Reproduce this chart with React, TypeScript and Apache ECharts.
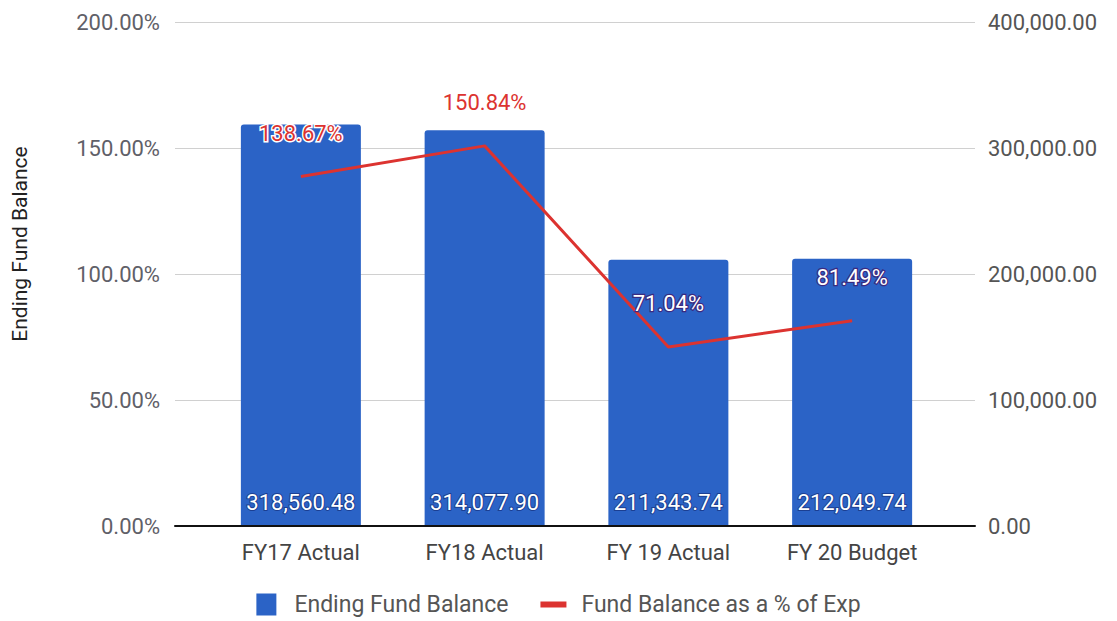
import React, { useEffect, useRef } from "react";
import * as echarts from "echarts";

const categories = ["FY17 Actual", "FY18 Actual", "FY 19 Actual", "FY 20 Budget"];
const fundBalance = [318560.48, 314077.9, 211343.74, 212049.74];
const pctOfExp = [138.67, 150.84, 71.04, 81.49];
const leftTicks = [0, 50, 100, 150, 200];
const rightTicks = [0, 100000, 200000, 300000, 400000];

const BAR = "#2b63c6";
const LINE = "#dc3330";
const FONT = "Roboto";

export default function App() {
  const ref = useRef<HTMLDivElement>(null);
  useEffect(() => {
    if (!ref.current) return;
    const chart = echarts.init(ref.current, undefined, { renderer: "svg" });
    const fmtMoney = (v: number) =>
      v.toLocaleString("en-US", { minimumFractionDigits: 2, maximumFractionDigits: 2 });
    const top = 22;
    const bottom = 95;
    chart.setOption({
      animation: false,
      textStyle: { fontFamily: FONT },
      grid: [
        { left: 209, right: 173, top, bottom },
        { left: 175, right: 142, top, bottom },
      ],
      legend: {
        bottom: 0,
        left: "center",
        itemWidth: 26,
        itemHeight: 22,
        itemGap: 32,
        textStyle: { fontSize: 23, color: "#555", fontFamily: FONT, padding: [0, 0, 0, 10] },
        data: [
          { name: "Ending Fund Balance", icon: "path://M0,0H20V22H0Z" },
          { name: "Fund Balance as a % of Exp", icon: "path://M0,0H26V6H0Z" },
        ],
      },
      graphic: [
        {
          type: "text",
          x: 20,
          y: 244,
          rotation: Math.PI / 2,
          style: {
            text: "Ending Fund Balance",
            font: `21px ${FONT}`,
            fill: "#222",
            align: "center",
            verticalAlign: "middle",
          },
        },
      ],
      xAxis: [
        {
          type: "category",
          gridIndex: 0,
          data: categories,
          axisLine: { show: false },
          axisTick: { show: false },
          axisLabel: { fontSize: 22, color: "#444", margin: 15, fontFamily: FONT },
        },
        {
          type: "category",
          gridIndex: 1,
          data: categories,
          axisLine: { show: true, lineStyle: { color: "#111", width: 2 } },
          axisTick: { show: false },
          axisLabel: { show: false },
          z: 5,
        },
      ],
      yAxis: [
        { type: "value", gridIndex: 0, min: 0, max: 200, interval: 50, show: false },
        { type: "value", gridIndex: 0, min: 0, max: 400000, interval: 100000, show: false },
        {
          type: "value",
          gridIndex: 1,
          position: "left",
          min: leftTicks[0],
          max: leftTicks[leftTicks.length - 1],
          interval: leftTicks[1] - leftTicks[0],
          axisLine: { show: false },
          axisTick: { show: false },
          splitLine: { show: true, lineStyle: { color: "#d0d0d0", width: 1 } },
          axisLabel: {
            fontSize: 22,
            color: "#5f6068",
            margin: 15,
            fontFamily: FONT,
            formatter: (v: number) => v.toFixed(2) + "%",
          },
        },
        {
          type: "value",
          gridIndex: 1,
          position: "right",
          min: rightTicks[0],
          max: rightTicks[rightTicks.length - 1],
          interval: rightTicks[1] - rightTicks[0],
          axisLine: { show: false },
          axisTick: { show: false },
          splitLine: { show: false },
          axisLabel: {
            fontSize: 22,
            color: "#555",
            margin: 13,
            fontFamily: FONT,
            formatter: (v: number) => fmtMoney(v),
          },
        },
      ],
      series: [
        {
          name: "Ending Fund Balance",
          type: "bar",
          xAxisIndex: 0,
          yAxisIndex: 1,
          data: fundBalance,
          barWidth: 120,
          itemStyle: { color: BAR, borderRadius: [3, 3, 0, 0] },
          label: {
            show: true,
            position: "insideBottom",
            distance: 13,
            fontSize: 22,
            color: "#fff",
            textBorderColor: "#1b3f92",
            textBorderWidth: 2,
            fontFamily: FONT,
            formatter: (p: any) => fmtMoney(p.value),
          },
        },
        {
          name: "Fund Balance as a % of Exp",
          type: "line",
          xAxisIndex: 0,
          yAxisIndex: 0,
          z: 4,
          data: pctOfExp.map((v, i) => ({
            value: v,
            label:
              i < 2
                ? { color: LINE, textBorderColor: "#fff", textBorderWidth: i === 0 ? 3 : 0 }
                : { color: "#fff", textBorderColor: "#3a2a80", textBorderWidth: 2.5 },
          })),
          symbol: "circle",
          symbolSize: 0,
          lineStyle: { color: LINE, width: 3 },
          itemStyle: { color: LINE },
          label: {
            show: true,
            position: "top",
            distance: 32,
            fontSize: 22,
            fontFamily: FONT,
            formatter: (p: any) => Number(p.value).toFixed(2) + "%",
          },
        },
      ],
    });
    return () => chart.dispose();
  }, []);
  return (
    <div
      ref={ref}
      style={{ position: "absolute", left: 0, top: 0, width: 1117, height: 621, background: "#fff" }}
    />
  );
}
